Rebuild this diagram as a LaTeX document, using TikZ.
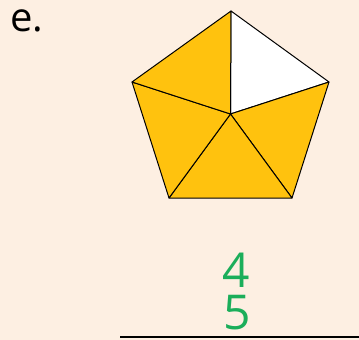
\documentclass[tikz,border=0pt]{standalone}
\usepackage{fontspec}
\setmainfont{Open Sans}
\definecolor{peach}{HTML}{FDEFE2}
\definecolor{sun}{HTML}{FFC20E}
\definecolor{leaf}{HTML}{1BAE5A}
\begin{document}
\begin{tikzpicture}[x=1pt,y=-1pt, every node/.style={inner sep=0pt}, part/.style={draw=black,line width=1pt,line join=round}, digit/.style={text=leaf,font=\fontsize{48}{48}\selectfont,text height=34pt,text depth=0pt,anchor=base}]
\fill[peach] (0,0) rectangle (359,340);
\useasboundingbox (0,0) rectangle (359,340);
\node[font=\fontsize{40}{40}\selectfont] (label) at (27,21) {e.};
% pentagon corners
\coordinate (c) at (230.5,114);
\coordinate (p1) at (231,11);
\coordinate (p2) at (329,82);
\coordinate (p3) at (292,198);
\coordinate (p4) at (169,198);
\coordinate (p5) at (132,82);
% the five parts, one left white
\filldraw[part,fill=white] (c) -- (p1) -- (p2) -- cycle;
\foreach \i/\j in {2/3,3/4,4/5,5/1}
  \filldraw[part,fill=sun] (c) -- (p\i) -- (p\j) -- cycle;
% fraction
\node[digit] (num) at (236.5,287) {4};
\node[digit] (den) at (237.5,329) {5};
\coordinate (rule) at (120,337);
\draw[line width=2pt] (rule) -- (359,337);
\end{tikzpicture}
\end{document}
